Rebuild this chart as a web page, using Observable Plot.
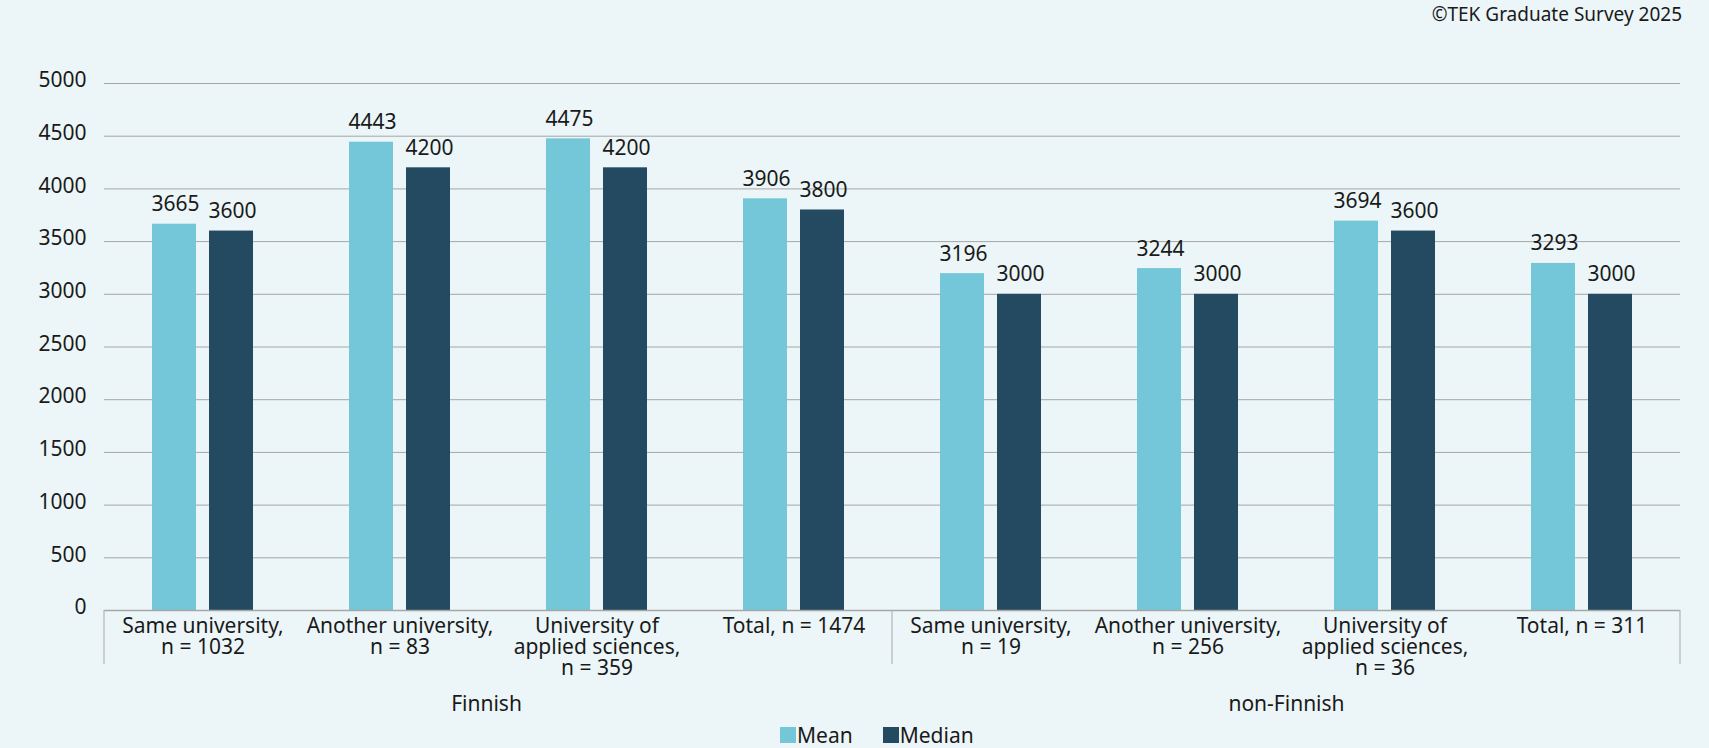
<!DOCTYPE html>
<html>
<head>
<meta charset="utf-8">
<script src="https://cdn.jsdelivr.net/npm/d3@7"></script>
<script src="https://cdn.jsdelivr.net/npm/@observablehq/plot@0.6"></script>
<style>
  html, body { margin: 0; padding: 0; background: #ECF6F8; }
  #wrap { position: relative; width: 1709px; height: 748px; font-family: "Noto Sans", sans-serif; color: #1a1a1a; overflow: hidden; }
  #caption { position: absolute; right: 27px; top: 5px; font-size: 19px; line-height: 19px; white-space: nowrap; }
  #legend { position: absolute; left: 780px; top: 725px; font-size: 21px; line-height: 21px; white-space: nowrap; }
  #legend .item { display: inline-block; margin-right: 30px; }
  #legend .sw { display: inline-block; width: 16px; height: 16px; margin-right: 1px; vertical-align: baseline; }
  #chart { position: absolute; left: 0; top: 0; }
</style>
</head>
<body>
<div id="wrap">
  <div id="chart"></div>
  <div id="caption">©TEK Graduate Survey 2025</div>
  <div id="legend"></div>
</div>
<script>
const groups = ["Finnish", "non-Finnish"];
const categories = [
  "Same university,\nn = 1032",
  "Another university,\nn = 83",
  "University of\napplied sciences,\nn = 359",
  "Total, n = 1474",
  "Same university,\nn = 19",
  "Another university,\nn = 256",
  "University of\napplied sciences,\nn = 36",
  "Total, n = 311"
];
const series = ["Mean", "Median"];
const meanValues = [3665, 4443, 4475, 3906, 3196, 3244, 3694, 3293];
const medianValues = [3600, 4200, 4200, 3800, 3000, 3000, 3600, 3000];
const yTicks = [0, 500, 1000, 1500, 2000, 2500, 3000, 3500, 4000, 4500, 5000];
const colors = ["#73C7D9", "#234A61"];

const rows = categories.flatMap((c, i) => [
  {category: c, series: "Mean", value: meanValues[i]},
  {category: c, series: "Median", value: medianValues[i]}
]);

const plot = Plot.plot({
  width: 1709,
  height: 748,
  marginLeft: 102,
  marginRight: 27,
  marginTop: 83,
  marginBottom: 138,
  style: {background: "transparent", fontFamily: "Noto Sans, sans-serif", fontSize: "21px", color: "#1a1a1a", overflow: "visible"},
  fx: {domain: categories, padding: 0, axis: null},
  x: {domain: series, paddingInner: 0.224, paddingOuter: 0.84, axis: null},
  y: {domain: [0, 5000], axis: null},
  color: {domain: series, range: colors},
  marks: [
    Plot.ruleY(yTicks.slice(1), {stroke: "#A6A6A6", strokeWidth: 1}),
    Plot.axisY(yTicks, {tickSize: 0, tickPadding: 18, tickFormat: "d", fontSize: 21, dy: -3, label: null}),
    Plot.barY(rows, {fx: "category", x: "series", y: "value", fill: "series"}),
    Plot.text(rows, {fx: "category", x: "series", y: "value", text: d => String(d.value), lineAnchor: "bottom", dy: -13, dx: 1, fontSize: 21, fill: "#1a1a1a"}),
    Plot.ruleY([0], {stroke: "#A6A6A6", strokeWidth: 1.5}),
    Plot.text(categories, {fx: d => d, text: d => d, frameAnchor: "bottom", lineAnchor: "top", dy: 8, lineHeight: 1.0, fontSize: 21, fill: "#1a1a1a"}),
    Plot.text(groups.slice(0, 1), {fx: () => categories[1], text: d => d, frameAnchor: "bottom-right", textAnchor: "middle", lineAnchor: "top", dy: 86, dx: -12, fontSize: 21, fill: "#1a1a1a"}),
    Plot.text(groups.slice(1), {fx: () => categories[5], text: d => d, frameAnchor: "bottom-right", textAnchor: "middle", lineAnchor: "top", dy: 86, fontSize: 21, fill: "#1a1a1a"})
  ]
});

// group separators on the category axis, placed with Plot's fx and y scales
const fx = plot.scale("fx");
const ys = plot.scale("y");
const y0 = ys.apply(0);
const edges = [fx.apply(categories[0]), fx.apply(categories[4]), fx.apply(categories[7]) + fx.bandwidth];
d3.select(plot).append("g")
  .selectAll("line").data(edges).join("line")
  .attr("x1", d => d).attr("x2", d => d)
  .attr("y1", y0).attr("y2", y0 + 54)
  .attr("stroke", "#B5B5B5").attr("stroke-width", 1.2);

document.getElementById("chart").appendChild(plot);

const legend = d3.select("#legend");
series.forEach((s, i) => {
  const item = legend.append("span").attr("class", "item");
  item.append("span").attr("class", "sw").style("background", colors[i]);
  item.append("span").text(s);
});
</script>
</body>
</html>
